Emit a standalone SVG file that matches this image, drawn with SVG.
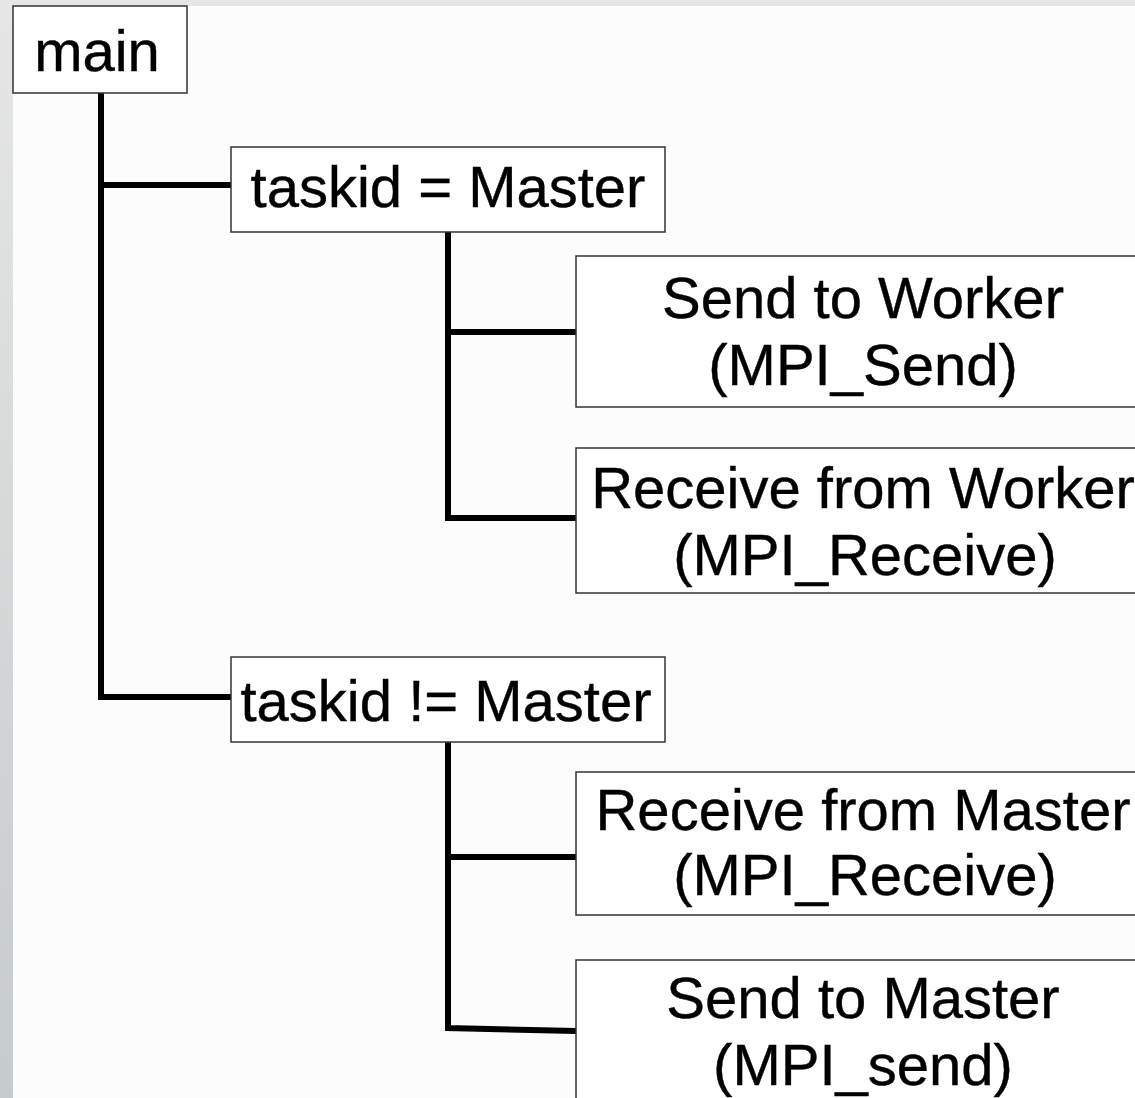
<svg xmlns="http://www.w3.org/2000/svg" width="1135" height="1098" viewBox="0 0 1135 1098">
<defs>
<linearGradient id="bg" x1="0" y1="0" x2="0" y2="1">
<stop offset="0" stop-color="#e6e6e6"/>
<stop offset="1" stop-color="#c6cbcb"/>
</linearGradient>
</defs>
<style>
.box{fill:#ffffff;stroke:#333333;stroke-width:1.5}
.t{font-family:"Liberation Sans",Arial,sans-serif;font-size:58px;fill:#000000;stroke:#000000;stroke-width:0.4;text-anchor:middle}
.c{fill:none;stroke:#000000;stroke-width:6;stroke-linejoin:miter}
</style>
<rect x="0" y="0" width="1135" height="1098" fill="url(#bg)"/>
<rect x="13" y="6" width="1122" height="1092" fill="#fcfcfc"/>
<g id="connectors">
<path class="c" d="M101,93 V697 H231"/>
<path class="c" d="M101,185 H231"/>
<path class="c" d="M448,232 V518 H576"/>
<path class="c" d="M448,332 H576"/>
<path class="c" d="M448,742 V1028 L576,1031"/>
<path class="c" d="M448,857 H576"/>
</g>
<g id="main">
<rect class="box" x="13" y="6" width="174" height="87"/>
<text class="t" x="97" y="71" font-size="57">main</text>
</g>
<g id="master">
<rect class="box" x="231" y="147" width="434" height="85"/>
<text class="t" x="448" y="207">taskid = Master</text>
</g>
<g id="sendWorker">
<rect class="box" x="576" y="256" width="580" height="151"/>
<text class="t" x="863" y="318">Send to Worker</text>
<text class="t" x="863" y="385">(MPI_Send)</text>
</g>
<g id="recvWorker">
<rect class="box" x="576" y="448" width="580" height="145"/>
<text class="t" x="863" y="508">Receive from Worker</text>
<text class="t" x="865" y="575">(MPI_Receive)</text>
</g>
<g id="notMaster">
<rect class="box" x="231" y="657" width="434" height="85"/>
<text class="t" x="446" y="721">taskid != Master</text>
</g>
<g id="recvMaster">
<rect class="box" x="576" y="772" width="580" height="143"/>
<text class="t" x="863" y="830">Receive from Master</text>
<text class="t" x="865" y="895">(MPI_Receive)</text>
</g>
<g id="sendMaster">
<rect class="box" x="576" y="960" width="580" height="160"/>
<text class="t" x="863" y="1018">Send to Master</text>
<text class="t" x="863" y="1085">(MPI_send)</text>
</g>
</svg>
